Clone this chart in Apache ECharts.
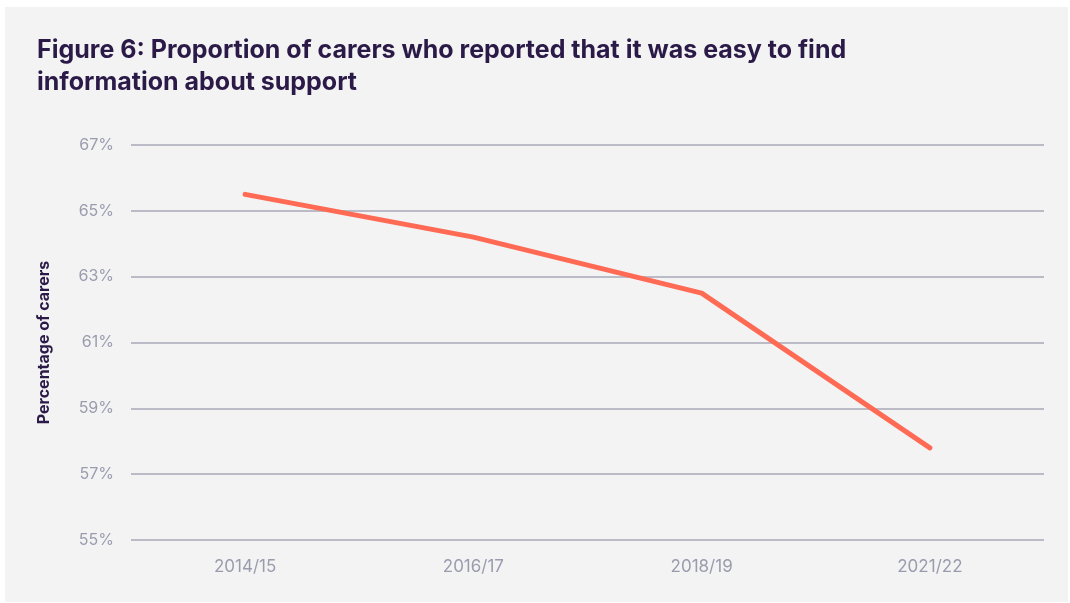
<!DOCTYPE html>
<html>
<head>
<meta charset="utf-8">
<title>Figure 6</title>
<script src="https://cdn.jsdelivr.net/npm/echarts@6/dist/echarts.min.js"></script>
<style>
  html, body { margin: 0; padding: 0; background: #ffffff; }
  #panel { position: absolute; left: 5px; top: 7px; width: 1063px; height: 595px; background: #f3f3f3; }
  #chart { position: absolute; left: 0; top: 0; width: 1070px; height: 603px; }
</style>
</head>
<body>
<div id="panel"></div>
<div id="chart"></div>
<script>
// Survey years and share of carers who found support information easy to find (%)
const years = ['2014/15', '2016/17', '2018/19', '2021/22'];
const easyToFind = [65.5, 64.2, 62.5, 57.8];
const yMin = 55;
const yMax = 67;
const yStep = 2;

const titleText = 'Figure 6: Proportion of carers who reported that it was easy to find\ninformation about support';
const yAxisTitle = 'Percentage of carers';

const chart = echarts.init(document.getElementById('chart'), null, { renderer: 'canvas' });

chart.setOption({
  backgroundColor: 'transparent',
  animation: false,
  title: {
    text: titleText,
    left: 37,
    top: 34,
    padding: 0,
    textStyle: {
      fontFamily: 'Inter, "Noto Sans", sans-serif',
      fontWeight: 'bold',
      fontSize: 25,
      lineHeight: 32,
      color: '#2b1a47'
    }
  },
  grid: { left: 131, right: 26, top: 145, bottom: 63, containLabel: false },
  xAxis: {
    type: 'category',
    data: years,
    boundaryGap: true,
    axisLine: { show: false },
    axisTick: { show: false },
    axisLabel: {
      margin: 18,
      fontFamily: 'Inter, "Noto Sans", sans-serif',
      fontSize: 17,
      color: '#9a9cae'
    }
  },
  yAxis: {
    type: 'value',
    min: yMin,
    max: yMax,
    interval: yStep,
    name: yAxisTitle,
    nameLocation: 'middle',
    nameRotate: 90,
    nameGap: 79,
    nameTextStyle: {
      fontFamily: 'Inter, "Noto Sans", sans-serif',
      fontWeight: 'bold',
      fontSize: 16,
      color: '#2b1a47'
    },
    axisLine: { show: false },
    axisTick: { show: false },
    axisLabel: {
      formatter: '{value}%',
      margin: 17,
      fontFamily: 'Inter, "Noto Sans", sans-serif',
      fontSize: 16,
      color: '#9a9cae'
    },
    splitLine: { lineStyle: { color: '#a7a9b7', width: 1.5 } }
  },
  series: [{
    type: 'line',
    data: easyToFind,
    symbol: 'none',
    lineStyle: { color: '#ff6a55', width: 5, cap: 'round', join: 'round' }
  }]
});
</script>
</body>
</html>
